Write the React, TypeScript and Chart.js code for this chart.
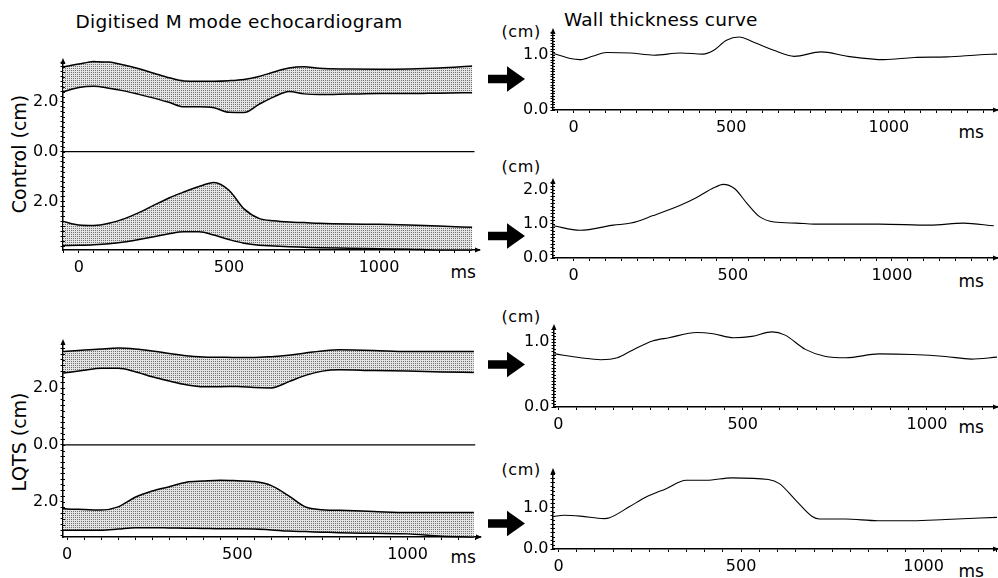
import React, { useEffect, useRef } from 'react';
import { Chart, registerables } from 'chart.js';

Chart.register(...registerables);
Chart.defaults.font.family = '"DejaVu Sans", sans-serif';

// ---------- Data (ms, cm) ----------
const controlTimes = [-53, 0, 50, 100, 150, 200, 250, 300, 350, 400, 450, 500, 550, 600, 650, 700, 750, 800, 900, 1000, 1100, 1200, 1310];
const controlUpperTop = [3.40, 3.52, 3.62, 3.60, 3.48, 3.33, 3.15, 2.97, 2.84, 2.83, 2.83, 2.85, 2.90, 3.02, 3.20, 3.36, 3.41, 3.35, 3.32, 3.31, 3.32, 3.36, 3.44];
const controlUpperBottom = [2.40, 2.58, 2.63, 2.55, 2.44, 2.30, 2.15, 1.98, 1.80, 1.80, 1.76, 1.58, 1.57, 1.90, 2.20, 2.42, 2.32, 2.29, 2.31, 2.33, 2.33, 2.35, 2.37];
const controlLowerTop = [-2.80, -2.95, -2.97, -2.88, -2.70, -2.45, -2.15, -1.86, -1.62, -1.40, -1.24, -1.55, -2.30, -2.68, -2.78, -2.83, -2.85, -2.88, -2.91, -2.92, -2.95, -2.99, -3.04];
const controlLowerBottom = [-3.77, -3.76, -3.74, -3.70, -3.63, -3.53, -3.42, -3.30, -3.22, -3.22, -3.35, -3.53, -3.68, -3.76, -3.79, -3.82, -3.84, -3.86, -3.88, -3.90, -3.92, -3.95, -3.95];
const controlZeroTimes = [-53, 1318];

const lqtsTimes = [-12, 0, 50, 100, 150, 200, 250, 300, 350, 400, 450, 500, 550, 600, 650, 700, 750, 800, 900, 1000, 1100, 1195];
const lqtsUpperTop = [3.29, 3.30, 3.34, 3.38, 3.41, 3.38, 3.31, 3.22, 3.14, 3.10, 3.09, 3.08, 3.08, 3.11, 3.16, 3.24, 3.31, 3.35, 3.33, 3.29, 3.29, 3.29];
const lqtsUpperBottom = [2.53, 2.55, 2.63, 2.70, 2.70, 2.58, 2.40, 2.25, 2.12, 2.05, 2.05, 2.06, 2.02, 2.01, 2.22, 2.45, 2.60, 2.65, 2.62, 2.60, 2.57, 2.55];
const lqtsLowerTop = [-2.24, -2.25, -2.27, -2.29, -2.18, -1.84, -1.62, -1.47, -1.31, -1.27, -1.24, -1.26, -1.29, -1.43, -1.78, -2.18, -2.28, -2.30, -2.34, -2.38, -2.38, -2.38];
const lqtsLowerBottom = [-3.00, -3.00, -3.00, -3.00, -2.96, -2.91, -2.91, -2.92, -2.93, -2.94, -2.95, -2.95, -2.96, -2.99, -3.03, -3.05, -3.07, -3.09, -3.11, -3.13, -3.21, -3.24];
const lqtsZeroTimes = [-12, 1199];

const wallControl1Times = [-63, -10, 20, 60, 105, 180, 255, 340, 410, 445, 485, 525, 570, 635, 700, 785, 870, 985, 1080, 1185, 1290, 1343];
const wallControl1 = [1.02, 0.93, 0.91, 0.97, 1.04, 1.03, 0.99, 1.03, 1.01, 1.08, 1.26, 1.32, 1.23, 1.08, 0.97, 1.05, 0.97, 0.91, 0.95, 0.96, 1.00, 1.01];
const wallControl2Times = [-63, 20, 125, 180, 250, 335, 385, 440, 470, 505, 545, 585, 630, 700, 755, 960, 1120, 1225, 1320];
const wallControl2 = [0.94, 0.81, 0.96, 1.02, 1.24, 1.54, 1.76, 2.05, 2.15, 2.03, 1.59, 1.20, 1.05, 1.02, 0.99, 0.99, 0.96, 1.02, 0.94];
const wallLqts1Times = [-10, 60, 115, 160, 195, 255, 300, 375, 420, 475, 525, 580, 615, 670, 725, 780, 870, 960, 1050, 1120, 1190];
const wallLqts1 = [0.82, 0.76, 0.73, 0.76, 0.86, 1.02, 1.07, 1.15, 1.13, 1.07, 1.09, 1.16, 1.11, 0.89, 0.78, 0.76, 0.82, 0.81, 0.78, 0.74, 0.77];
const wallLqts2Times = [-14, 15, 60, 125, 140, 195, 240, 295, 350, 405, 475, 575, 605, 650, 695, 715, 785, 875, 970, 1060, 1201];
const wallLqts2 = [0.78, 0.81, 0.79, 0.73, 0.75, 1.02, 1.25, 1.45, 1.65, 1.65, 1.71, 1.67, 1.57, 1.17, 0.78, 0.72, 0.72, 0.68, 0.68, 0.71, 0.76];

const xTickLabels = [0, 500, 1000];
const bandYLabels = [2, 0, -2];

// ---------- helpers ----------
const pts = (xs: number[], ys: number[]) => xs.map((x, i) => ({ x, y: ys[i] }));
const round = (v: number) => Math.round(v * 1000) / 1000;

function stepsIn(min: number, max: number, step: number) {
  const out: number[] = [];
  const start = Math.ceil(min / step - 1e-9);
  for (let k = start; k * step <= max + 1e-9; k++) out.push(round(k * step));
  return out;
}

function makePattern(): CanvasPattern | string {
  const c = document.createElement('canvas');
  c.width = 2;
  c.height = 2;
  const g = c.getContext('2d');
  if (!g) return '#c8c8c8';
  g.fillStyle = '#e4e4e4';
  g.fillRect(0, 0, 2, 2);
  g.fillStyle = '#707070';
  g.fillRect(0, 0, 1, 1);
  const p = g.createPattern(c, 'repeat');
  return p || '#c8c8c8';
}

const axisDecor = {
  id: 'axisDecor',
  afterDraw(chart: any) {
    const { ctx, chartArea } = chart;
    const { left, top, right, bottom } = chartArea;
    const yScale = chart.scales.y;
    ctx.save();
    ctx.strokeStyle = '#000';
    ctx.lineWidth = 1;
    ctx.beginPath();
    yScale.ticks.forEach((tk: any) => {
      const py = Math.round(yScale.getPixelForValue(tk.value)) + 0.5;
      ctx.moveTo(left, py);
      ctx.lineTo(left + 2, py);
    });
    ctx.stroke();
    ctx.fillStyle = '#000';
    ctx.beginPath();
    ctx.moveTo(left, top - 4);
    ctx.lineTo(left - 2.5, top + 2);
    ctx.lineTo(left + 2.5, top + 2);
    ctx.closePath();
    ctx.fill();
    ctx.beginPath();
    ctx.moveTo(right + 2, bottom);
    ctx.lineTo(right - 4, bottom - 2.5);
    ctx.lineTo(right - 4, bottom + 2.5);
    ctx.closePath();
    ctx.fill();
    ctx.restore();
  },
};

type Spec = {
  rect: [number, number, number, number];
  xRange: [number, number];
  yRange: [number, number];
  yStep: number;
  yLabels: number[];
  padL: number;
  datasets: (pattern: any) => any[];
};

const bandLine = (xs: number[], ys: number[], fill: any, pattern: any) => ({
  data: pts(xs, ys),
  borderColor: '#000',
  borderWidth: 1.5,
  pointRadius: 0,
  fill,
  backgroundColor: pattern,
  cubicInterpolationMode: 'monotone',
  clip: 6,
});

const zeroLine = (xs: number[]) => ({
  data: pts(xs, [0, 0]),
  borderColor: '#000',
  borderWidth: 1.3,
  pointRadius: 0,
  fill: false,
});

const wallLine = (xs: number[], ys: number[]) => ({
  data: pts(xs, ys),
  borderColor: '#000',
  borderWidth: 1.1,
  pointRadius: 0,
  fill: false,
  cubicInterpolationMode: 'monotone',
  clip: 4,
});

const specs: Spec[] = [
  {
    rect: [63, 62, 479, 250], xRange: [-53, 1333], yRange: [-3.95, 3.6], yStep: 0.2, yLabels: bandYLabels, padL: 48,
    datasets: (p) => [
      bandLine(controlTimes, controlUpperTop, '+1', p),
      bandLine(controlTimes, controlUpperBottom, false, p),
      bandLine(controlTimes, controlLowerTop, '+1', p),
      bandLine(controlTimes, controlLowerBottom, false, p),
      zeroLine(controlZeroTimes),
    ],
  },
  {
    rect: [63, 343, 480, 537], xRange: [-12, 1213], yRange: [-3.24, 3.59], yStep: 0.2, yLabels: bandYLabels, padL: 48,
    datasets: (p) => [
      bandLine(lqtsTimes, lqtsUpperTop, '+1', p),
      bandLine(lqtsTimes, lqtsUpperBottom, false, p),
      bandLine(lqtsTimes, lqtsLowerTop, '+1', p),
      bandLine(lqtsTimes, lqtsLowerBottom, false, p),
      zeroLine(lqtsZeroTimes),
    ],
  },
  {
    rect: [553, 32, 997, 110], xRange: [-65, 1343], yRange: [0, 1.41], yStep: 0.05, yLabels: [0, 1], padL: 40,
    datasets: () => [wallLine(wallControl1Times, wallControl1)],
  },
  {
    rect: [553, 182, 997, 258], xRange: [-65, 1330], yRange: [0, 2.22], yStep: 0.1, yLabels: [0, 1, 2], padL: 40,
    datasets: () => [wallLine(wallControl2Times, wallControl2)],
  },
  {
    rect: [554, 328, 997, 407], xRange: [-12, 1190], yRange: [0, 1.22], yStep: 0.05, yLabels: [0, 1], padL: 40,
    datasets: () => [wallLine(wallLqts1Times, wallLqts1)],
  },
  {
    rect: [553, 472, 997, 549], xRange: [-15, 1201], yRange: [0, 1.85], yStep: 0.1, yLabels: [0, 1], padL: 40,
    datasets: () => [wallLine(wallLqts2Times, wallLqts2)],
  },
];

const PAD_T = 14;
const PAD_B = 30;
const PAD_R = 6;

function ChartCanvas({ spec }: { spec: Spec }) {
  const ref = useRef<HTMLCanvasElement>(null);
  const [l, t, r, b] = spec.rect;
  const w = r - l + spec.padL + PAD_R;
  const h = b - t + PAD_T + PAD_B;

  useEffect(() => {
    if (!ref.current) return;
    const pattern = makePattern();
    const [xMin, xMax] = spec.xRange;
    const [yMin, yMax] = spec.yRange;
    const chart = new Chart(ref.current, {
      type: 'line',
      data: { datasets: spec.datasets(pattern) },
      options: {
        animation: false,
        responsive: false,
        events: [],
        layout: { padding: { top: PAD_T, right: PAD_R, left: 0, bottom: 0 } },
        plugins: {
          legend: { display: false },
          tooltip: { enabled: false },
          filler: { drawTime: 'beforeDatasetsDraw' },
        },
        scales: {
          x: {
            type: 'linear',
            min: xMin,
            max: xMax,
            afterBuildTicks: (s: any) => {
              s.ticks = stepsIn(xMin, xMax, 50).map((v) => ({ value: v }));
            },
            afterFit: (s: any) => {
              s.height = PAD_B;
            },
            ticks: {
              autoSkip: false,
              maxRotation: 0,
              minRotation: 0,
              padding: 5,
              color: '#000',
              font: { size: 16 },
              callback: (v: any) => (xTickLabels.includes(round(Number(v))) ? String(round(Number(v))) : ''),
            },
            grid: { drawOnChartArea: false, drawTicks: true, tickLength: 3, color: '#000', tickWidth: 1 },
            border: { display: true, color: '#000', width: 1.5 },
          },
          y: {
            type: 'linear',
            min: yMin,
            max: yMax,
            afterBuildTicks: (s: any) => {
              s.ticks = stepsIn(yMin, yMax, spec.yStep).map((v) => ({ value: v }));
            },
            afterFit: (s: any) => {
              s.width = spec.padL;
            },
            ticks: {
              autoSkip: false,
              padding: 2,
              color: '#000',
              font: { size: 16 },
              callback: (v: any) => {
                const rv = round(Number(v));
                return spec.yLabels.includes(rv) ? Math.abs(rv).toFixed(1) : '';
              },
            },
            grid: { drawOnChartArea: false, drawTicks: true, tickLength: 2.5, color: '#000', tickWidth: 1 },
            border: { display: true, color: '#000', width: 1.5 },
          },
        },
      } as any,
      plugins: [axisDecor],
    });
    return () => chart.destroy();
  }, []);

  return (
    <canvas
      ref={ref}
      width={w}
      height={h}
      style={{ position: 'absolute', left: l - spec.padL, top: t - PAD_T, width: w, height: h }}
    />
  );
}

const textBase: React.CSSProperties = {
  position: 'absolute',
  fontFamily: '"DejaVu Sans", sans-serif',
  lineHeight: 1,
  whiteSpace: 'nowrap',
  color: '#000',
};

function Label({ x, y, size, text, spacing = 0 }: { x: number; y: number; size: number; text: string; spacing?: number }) {
  return <div style={{ ...textBase, left: x, top: y, fontSize: size, letterSpacing: spacing }}>{text}</div>;
}

function VLabel({ cx, cy, text }: { cx: number; cy: number; text: string }) {
  return (
    <div
      style={{
        ...textBase,
        left: cx,
        top: cy,
        fontSize: 19,
        transform: 'translate(-50%, -50%) rotate(-90deg)',
      }}
    >
      {text}
    </div>
  );
}

const arrowCenters = [79, 236, 364.5, 523.5];

export default function App() {
  return (
    <div style={{ position: 'absolute', left: 0, top: 0, width: 998, height: 578, overflow: 'hidden', background: '#fff' }}>
      <Label x={75.5} y={12.6} size={18.5} spacing={0.3} text="Digitised M mode echocardiogram" />
      <Label x={564} y={11} size={18.5} spacing={0.2} text="Wall thickness curve" />
      <VLabel cx={19.4} cy={154} text="Control (cm)" />
      <VLabel cx={19.4} cy={441.7} text="LQTS (cm)" />

      <Label x={450.5} y={263.6} size={17} text="ms" />
      <Label x={450.5} y={548.6} size={17} text="ms" />
      <Label x={958.5} y={123.6} size={17} text="ms" />
      <Label x={958.5} y={272.6} size={17} text="ms" />
      <Label x={958.5} y={418.6} size={17} text="ms" />
      <Label x={958.5} y={562.6} size={17} text="ms" />

      <Label x={501.5} y={24} size={16} spacing={0.6} text="(cm)" />
      <Label x={501.5} y={158.8} size={16} spacing={0.6} text="(cm)" />
      <Label x={501.5} y={308.8} size={16} spacing={0.6} text="(cm)" />
      <Label x={501.5} y={462.2} size={16} spacing={0.6} text="(cm)" />

      <svg width={998} height={578} style={{ position: 'absolute', left: 0, top: 0 }}>
        {arrowCenters.map((cy, i) => (
          <polygon
            key={i}
            fill="#000"
            points={`488,${cy - 4.3} 507,${cy - 4.3} 507,${cy - 12.8} 525,${cy} 507,${cy + 12.8} 507,${cy + 4.3} 488,${cy + 4.3}`}
          />
        ))}
      </svg>

      {specs.map((s, i) => (
        <ChartCanvas key={i} spec={s} />
      ))}
    </div>
  );
}
